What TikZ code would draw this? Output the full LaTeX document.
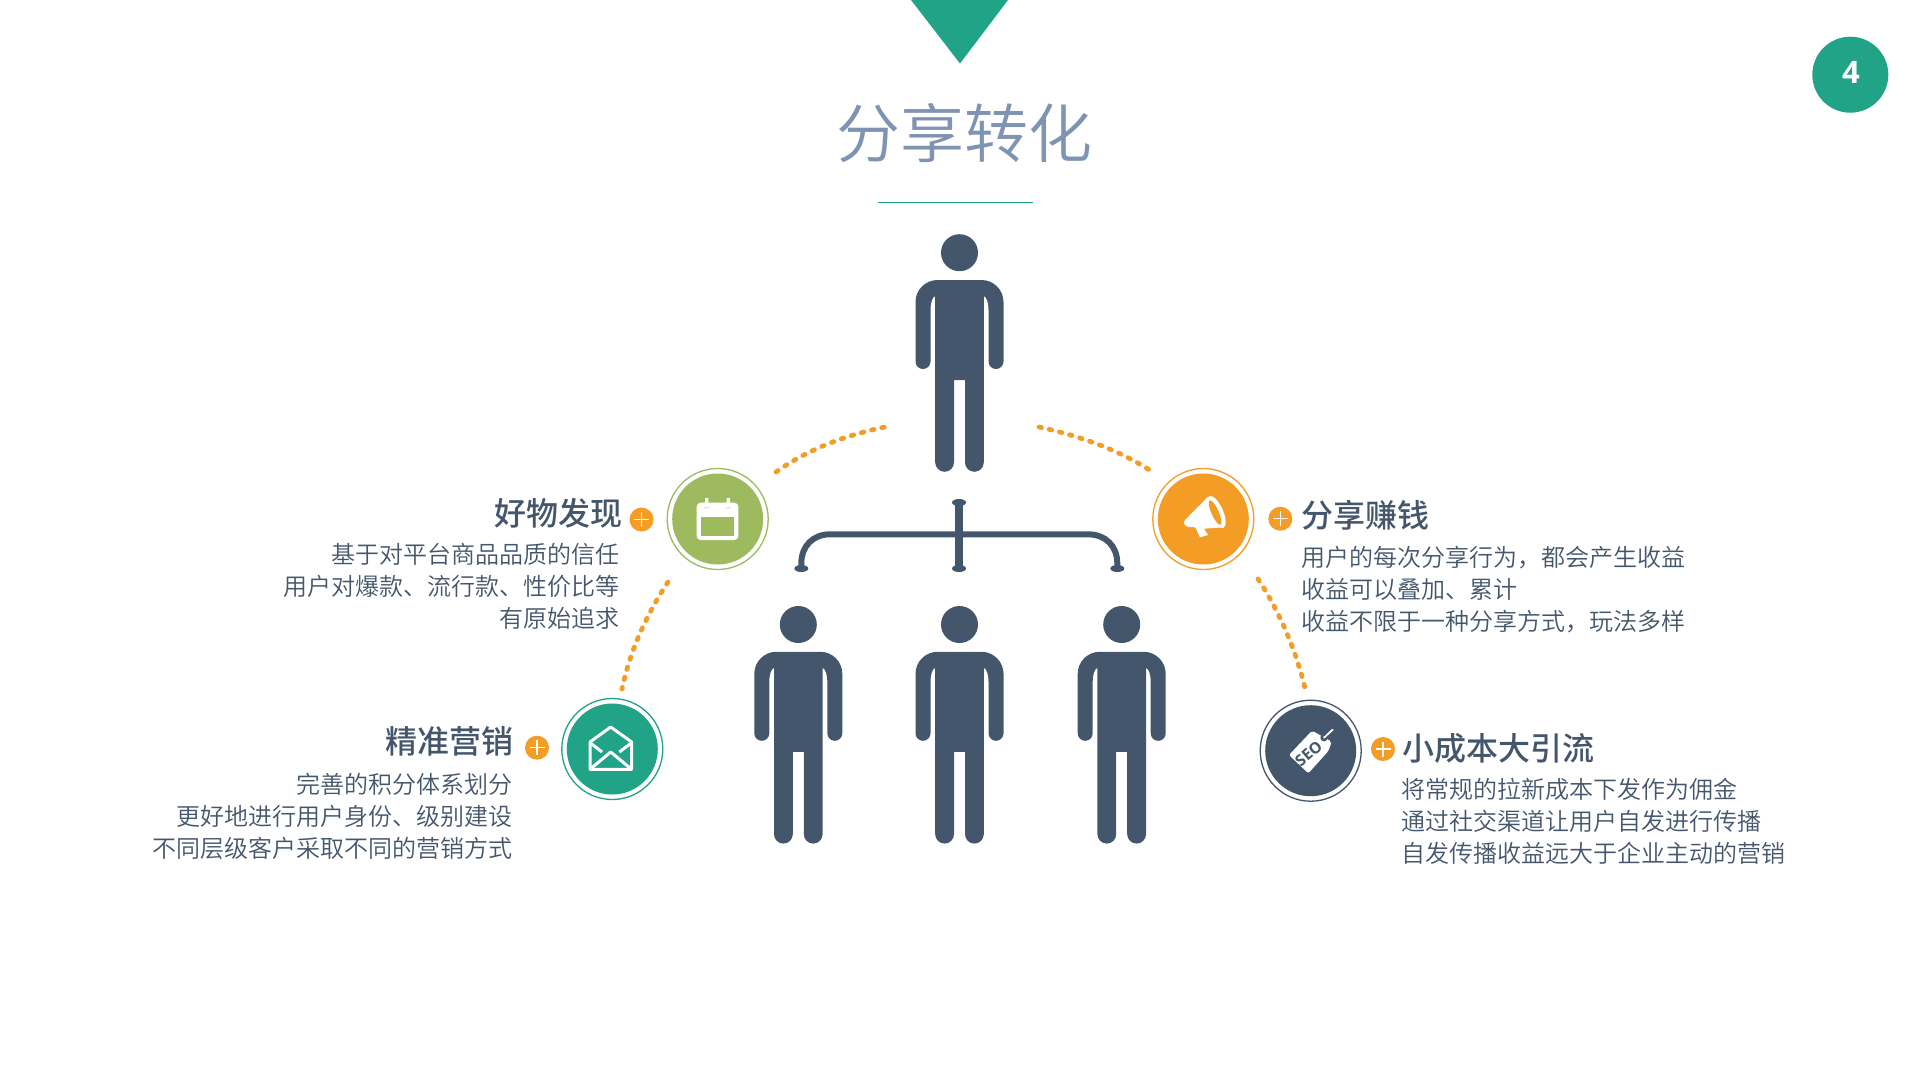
\documentclass[tikz,border=0pt]{standalone}
\usepackage{fontspec}
\usetikzlibrary{shapes.geometric}
\setmainfont{Noto Sans CJK SC}
\newfontfamily\titlefont{Noto Sans CJK SC DemiLight}
\newfontfamily\bodyfont{Noto Sans CJK SC DemiLight}
\newfontfamily\headfont{Noto Sans CJK SC Medium}
\newfontfamily\numfont{Open Sans}
\definecolor{teal1}{HTML}{20A386}
\definecolor{green1}{HTML}{9DBB5E}
\definecolor{orange1}{HTML}{F39C26}
\definecolor{dark1}{HTML}{44566C}
\definecolor{title1}{HTML}{7F93B2}
\tikzset{
  disc/.style={circle,fill=#1,minimum size=91pt,inner sep=0pt},
  ring/.style={circle,draw=#1,line width=1.3pt,fill=white,minimum size=101pt,inner sep=0pt},
  plusdot/.style={circle,fill=orange1,minimum size=24pt,inner sep=0pt,
    path picture={\draw[white,line width=1.2pt]
      ([xshift=-7.5pt]path picture bounding box.center) -- ([xshift=7.5pt]path picture bounding box.center)
      ([yshift=-7.5pt]path picture bounding box.center) -- ([yshift=7.5pt]path picture bounding box.center);}},
  headl/.style={text=dark1,inner sep=0pt,font=\headfont\fontsize{32}{32}\selectfont},
  bodyl/.style={text=dark1,inner sep=0pt,font=\bodyfont\fontsize{24}{32}\selectfont},
  dotarc/.style={draw=orange1,line width=4.8pt,line cap=round,dash pattern=on 2.5pt off 8pt},
  bracket/.style={draw=dark1,line width=6pt},
  stem/.style={ellipse,fill=dark1,minimum width=14pt,minimum height=7pt,inner sep=0pt},
  iconline/.style={draw=white,line width=3pt,line join=round},
}
\newcommand{\personfig}[3]{%
  \begin{scope}[shift={(#1,#2)}]
    \node[circle,fill=dark1,minimum size=37pt,inner sep=0pt] (#3head) at (0,252.7) {};
    \fill[dark1] (-22,280) -- (22,280)
      .. controls (34.15,280) and (44,289.85) .. (44,302) -- (44,361.5)
      .. controls (44,365.64) and (40.64,369) .. (36.5,369)
      .. controls (32.36,369) and (29,365.64) .. (29,361.5) -- (29,310)
      .. controls (29,302) and (27,297) .. (24.3,296) -- (24.3,462.4)
      .. controls (24.3,467.6) and (20,471.8) .. (14.9,471.8)
      .. controls (9.8,471.8) and (5.5,467.6) .. (5.5,462.4) -- (5.5,380) -- (-5.5,380) -- (-5.5,462.4)
      .. controls (-5.5,467.6) and (-9.8,471.8) .. (-14.9,471.8)
      .. controls (-20,471.8) and (-24.3,467.6) .. (-24.3,462.4) -- (-24.3,296)
      .. controls (-27,297) and (-29,302) .. (-29,310) -- (-29,361.5)
      .. controls (-29,365.64) and (-32.36,369) .. (-36.5,369)
      .. controls (-40.64,369) and (-44,365.64) .. (-44,361.5) -- (-44,302)
      .. controls (-44,289.85) and (-34.15,280) .. (-22,280) -- cycle;
  \end{scope}}
\begin{document}
\begin{tikzpicture}[x=1pt,y=-1pt]
\useasboundingbox (0,0) rectangle (1919,1080);
% header
\fill[teal1] (911,0) -- (1008,0) -- (960,63.5) -- cycle;
\node[text=title1,inner sep=0pt,font=\titlefont\fontsize{64}{64}\selectfont] (title) at (964,133) {分享转化};
\coordinate (ruleL) at (878,202); \coordinate (ruleR) at (1033,202);
\draw[teal1,line width=1pt] (ruleL) -- (ruleR);
\node[circle,fill=teal1,minimum size=76pt,inner sep=0pt] (badge) at (1850.3,74.7) {};
\node[text=white,inner sep=0pt,font=\numfont\bfseries\fontsize{31}{31}\selectfont] (badgenum) at (1851,72.5) {4};
% people
\personfig{959.5}{0}{top}
\personfig{798.3}{371.8}{a}
\personfig{959.5}{371.8}{b}
\personfig{1121.7}{371.8}{c}
% bracket
\node[stem] (stemT) at (959,502.5) {};
\node[stem] (stemB) at (959,568.5) {};
\node[stem] (stemL) at (801.3,568.5) {};
\node[stem] (stemR) at (1117.3,568.5) {};
\draw[dark1,line width=8pt] (stemT.center) -- (stemB.center);
\draw[bracket] (stemL.center) -- (801.3,563.5) .. controls (801.3,546) and (813,534.3) .. (830,534.3) -- (1088,534.3) .. controls (1105.5,534.3) and (1117.3,546) .. (1117.3,563.5) -- (stemR.center);
% rings
\node[ring=green1] (r1) at (717.7,519) {}; \node[disc=green1] (d1) at (r1) {};
\node[ring=orange1] (r2) at (1203.3,519) {}; \node[disc=orange1] (d2) at (r2) {};
\node[ring=teal1] (r3) at (612.3,749) {}; \node[disc=teal1] (d3) at (r3) {};
\node[ring=dark1] (r4) at (1310.7,750.7) {}; \node[disc=dark1] (d4) at (r4) {};
% plus
\node[plusdot] (p1) at (641.5,519.5) {};
\node[plusdot] (p2) at (1280.3,518.7) {};
\node[plusdot] (p3) at (537,747.7) {};
\node[plusdot] (p4) at (1383,749) {};
% dotted arcs
\coordinate (a1s) at (776,472); \coordinate (a1e) at (890,426);
\coordinate (a2s) at (1039,427); \coordinate (a2e) at (1154,473);
\coordinate (a3s) at (668,582); \coordinate (a3e) at (622,689);
\coordinate (a4s) at (1258,579); \coordinate (a4e) at (1306,693);
\draw[dotarc] (a1s) .. controls (808,449) and (848,434) .. (a1e);
\draw[dotarc] (a2s) .. controls (1080,436) and (1120,450) .. (a2e);
\draw[dotarc] (a3s) .. controls (648,612) and (630,650) .. (a3e);
\draw[dotarc] (a4s) .. controls (1280,612) and (1298,655) .. (a4e);
% calendar
\begin{scope}[shift={(640,450)},scale=1/3]
  \fill[white,rounded corners=4pt] (170,158) rectangle (295,270);
  \fill[green1] (183,200) rectangle (283,258);
  \fill[green1!45!white] (193,170) rectangle (207,175) (258,170) rectangle (272,175);
  \fill[white] (195,144) rectangle (205,172) (260,144) rectangle (270,172);
\end{scope}
% megaphone
\begin{scope}[shift={(1140,450)},scale=1/3]
  \fill[white,line join=round] (204,140) -- (140,205) .. controls (130,212) and (128,225) .. (142,230) -- (166,232) -- (180,262) -- (204,255) -- (192,236) -- (250,232) -- cycle;
  \fill[white,rotate around={-66:(229,186)}] (229,186) ellipse [x radius=52,y radius=20];
  \fill[orange1,rotate around={-66:(229,186)}] (229,190) ellipse [x radius=40,y radius=11];
\end{scope}
% envelope
\begin{scope}[shift={(520,680)},scale=1/3]
  \draw[iconline] (210,186) -- (272,141) -- (335,186) -- (335,268) -- (210,268) -- cycle;
  \draw[iconline] (210,268) -- (272,216) -- (335,268);
  \draw[iconline] (210,188) -- (246,216);
  \draw[iconline] (335,188) -- (298,216);
\end{scope}
% tag
\begin{scope}[shift={(1250,690)},scale=1/3]
  \fill[white,rounded corners=2pt] (117,195) -- (186,122) -- (245,155) -- (236,182) -- (175,250) -- cycle;
  \fill[dark1] (222,143) circle (11);
  \draw[white,line width=1.8pt,line cap=round] (222,143) -- (248,119);
  \node[text=dark1,rotate=40,inner sep=0pt,font=\numfont\bfseries\fontsize{15.5}{15.5}\selectfont] (seo) at (176,190) {SEO};
\end{scope}
% texts
\node[headl,anchor=east] (h1) at (622.4,513.5) {好物发现};
\node[bodyl,align=right,anchor=east] (b1) at (619.5,586.5) {基于对平台商品品质的信任\\用户对爆款、流行款、性价比等\\有原始追求};
\node[headl,anchor=west] (h2) at (1301,515.5) {分享赚钱};
\node[bodyl,align=left,anchor=west] (b2) at (1301,590) {用户的每次分享行为，都会产生收益\\收益可以叠加、累计\\收益不限于一种分享方式，玩法多样};
\node[headl,anchor=east] (h3) at (513.4,741.7) {精准营销};
\node[bodyl,align=right,anchor=east] (b3) at (513,816.2) {完善的积分体系划分\\更好地进行用户身份、级别建设\\不同层级客户采取不同的营销方式};
\node[headl,anchor=west] (h4) at (1402,748) {小成本大引流};
\node[bodyl,align=left,anchor=west] (b4) at (1401.2,821.5) {将常规的拉新成本下发作为佣金\\通过社交渠道让用户自发进行传播\\自发传播收益远大于企业主动的营销};
\end{tikzpicture}
\end{document}
